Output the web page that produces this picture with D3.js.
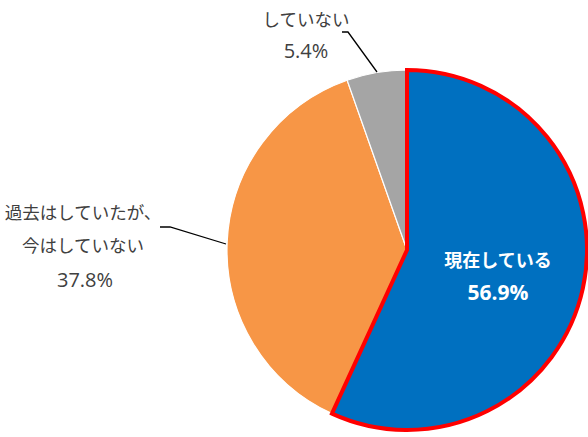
<!DOCTYPE html>
<html><head><meta charset="utf-8">
<script src="https://cdn.jsdelivr.net/npm/d3@7"></script>
<style>html,body{margin:0;padding:0;background:#fff;}svg{display:block;}</style>
</head><body>
<svg id="chart" width="588" height="437"></svg>
<script>
const categories = ["現在している", "過去はしていたが、今はしていない", "していない"];
const values = [56.9, 37.8, 5.4];
const colors = ["#0070C0", "#F79646", "#A5A5A5"];

const svg = d3.select("#chart");
const cx = 407, cy = 250, r = 180;
const g = svg.append("g").attr("transform", `translate(${cx},${cy})`);

const pie = d3.pie().sort(null).value(d => d.v);
const arcs = pie(categories.map((c, i) => ({c, v: values[i], col: colors[i]})));
const arc = d3.arc().innerRadius(0).outerRadius(r);

// Other slices first, highlighted slice on top
g.selectAll("path.s").data(arcs.slice(1)).join("path")
  .attr("d", arc).attr("fill", d => d.data.col)
  .attr("stroke", "#fff").attr("stroke-width", 1.2);
g.append("path").datum(arcs[0]).attr("d", arc)
  .attr("fill", arcs[0].data.col)
  .attr("stroke", "#FF0000").attr("stroke-width", 4).attr("stroke-linejoin", "miter");

const font = "'Noto Sans CJK JP', 'Noto Sans', sans-serif";
const numFont = "'Open Sans', 'Noto Sans', sans-serif";
const txt = (x, y, s, opt = {}) => svg.append("text")
  .attr("x", x).attr("y", y).attr("text-anchor", "middle")
  .attr("font-family", opt.num ? numFont : font).attr("font-size", opt.size || 17.5)
  .attr("font-weight", opt.bold ? "bold" : "normal")
  .attr("fill", opt.fill || "#404040").text(s);

// Inside label for the main slice
const fmt = v => v.toFixed(1) + "%";
txt(498, 267, "現在している", {bold: true, fill: "#fff", size: 18});
txt(498, 300, fmt(values[0]), {bold: true, fill: "#fff", size: 21, num: true});

// Outside labels with leader lines
txt(83, 219, "過去はしていたが、");
txt(83, 252, "今はしていない");
txt(85, 287, fmt(values[1]), {size: 20, num: true});
txt(306, 26, "していない");
txt(306, 58, fmt(values[2]), {size: 20, num: true});

const line = d3.line();
svg.append("path").attr("d", line([[160, 227], [170, 227], [226, 244]]))
  .attr("fill", "none").attr("stroke", "#000").attr("stroke-width", 1.3);
svg.append("path").attr("d", line([[342, 32], [348, 32], [377, 72]]))
  .attr("fill", "none").attr("stroke", "#000").attr("stroke-width", 1.3);
</script>
</body></html>
